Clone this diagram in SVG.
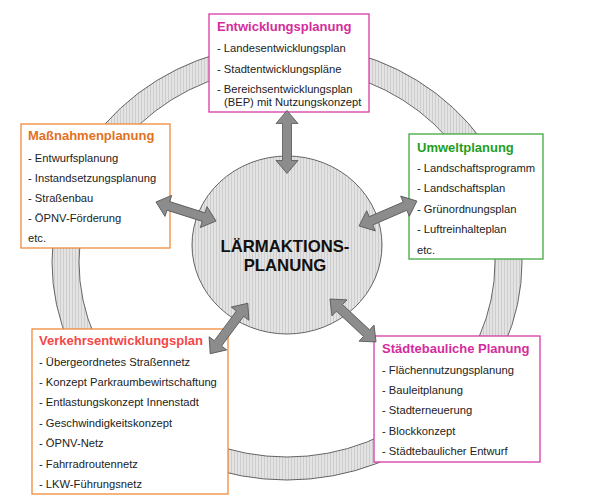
<svg xmlns="http://www.w3.org/2000/svg" width="607" height="499" viewBox="0 0 607 499">
<defs>
<pattern id="hatch" width="3" height="10" patternUnits="userSpaceOnUse">
<rect width="3" height="10" fill="#e3e3e3"/>
<rect width="1" height="10" fill="#cdcdcd"/>
</pattern>
<path id="dbl" d="M-31.5,0 L-18.5,-11 L-18.5,-4.5 L18.5,-4.5 L18.5,-11 L31.5,0 L18.5,11 L18.5,4.5 L-18.5,4.5 L-18.5,11 Z"/>
</defs>
<style>
text{font-family:"Liberation Sans",Arial,sans-serif;fill:#222;font-size:11.2px}
.t{font-weight:bold;font-size:13px}
.box{fill:#fff;stroke-width:1.3}
.mag{stroke:#d83aa8}
.org{stroke:#f08a3c}
.grn{stroke:#3fa83f}
.arr{fill:#8c8c8c;stroke:#555;stroke-width:0.8}
</style>
<rect width="607" height="499" fill="#fff"/>
<g id="ring">
<path d="M52,262 A235,218 0 1,0 522,262 A235,218 0 1,0 52,262 Z M79,262 A208,195 0 1,1 495,262 A208,195 0 1,1 79,262 Z" fill="url(#hatch)" fill-rule="evenodd" stroke="#555" stroke-width="0.9"/>
</g>
<g id="center">
<ellipse cx="287" cy="245" rx="95" ry="89" fill="url(#hatch)" stroke="#555" stroke-width="0.9"/>
<text x="285" y="252" text-anchor="middle" style="font-weight:bold;font-size:16.7px;fill:#111">LÄRMAKTIONS-</text>
<text x="285" y="271" text-anchor="middle" style="font-weight:bold;font-size:16.7px;fill:#111">PLANUNG</text>
</g>
<g id="entwicklung">
<rect class="box mag" x="209" y="14" width="160" height="98"/>
<text class="t" x="217" y="31" style="fill:#d42c9e">Entwicklungsplanung</text>
<text x="217" y="52">- Landesentwicklungsplan</text>
<text x="217" y="73">- Stadtentwicklungspläne</text>
<text x="217" y="93">- Bereichsentwicklungsplan</text>
<text x="224" y="106">(BEP) mit Nutzungskonzept</text>
</g>
<g id="massnahmen">
<rect class="box org" x="21" y="124" width="149" height="124"/>
<text class="t" x="28" y="140" style="fill:#e2711e">Maßnahmenplanung</text>
<text x="28" y="162">- Entwurfsplanung</text>
<text x="28" y="182">- Instandsetzungsplanung</text>
<text x="28" y="202">- Straßenbau</text>
<text x="28" y="222">- ÖPNV-Förderung</text>
<text x="28" y="242">etc.</text>
</g>
<g id="umwelt">
<rect class="box grn" x="409" y="134" width="134" height="125"/>
<text class="t" x="417" y="152" style="fill:#1f9e22">Umweltplanung</text>
<text x="417" y="172">- Landschaftsprogramm</text>
<text x="417" y="192">- Landschaftsplan</text>
<text x="417" y="213">- Grünordnungsplan</text>
<text x="417" y="233">- Luftreinhalteplan</text>
<text x="417" y="254">etc.</text>
</g>
<g id="verkehr">
<rect class="box org" x="32" y="329" width="196" height="165"/>
<text class="t" x="39" y="345" style="fill:#f24848">Verkehrsentwicklungsplan</text>
<text x="39" y="366">- Übergeordnetes Straßennetz</text>
<text x="39" y="386">- Konzept Parkraumbewirtschaftung</text>
<text x="39" y="406">- Entlastungskonzept Innenstadt</text>
<text x="39" y="427">- Geschwindigkeitskonzept</text>
<text x="39" y="447">- ÖPNV-Netz</text>
<text x="39" y="468">- Fahrradroutennetz</text>
<text x="39" y="488">- LKW-Führungsnetz</text>
</g>
<g id="staedtebau">
<rect class="box mag" x="374" y="336" width="166" height="126"/>
<text class="t" x="382" y="353" style="fill:#d42c9e">Städtebauliche Planung</text>
<text x="382" y="374">- Flächennutzungsplanung</text>
<text x="382" y="394">- Bauleitplanung</text>
<text x="382" y="414">- Stadterneuerung</text>
<text x="382" y="435">- Blockkonzept</text>
<text x="382" y="455">- Städtebaulicher Entwurf</text>
</g>
<g id="connectors">
<use href="#dbl" class="arr" transform="translate(287,142) rotate(90)"/>
<use href="#dbl" class="arr" transform="translate(186,211.5) rotate(17.6)"/>
<use href="#dbl" class="arr" transform="translate(388,213.5) rotate(-23.3)"/>
<use href="#dbl" class="arr" transform="translate(229,328.5) rotate(-53.3)"/>
<use href="#dbl" class="arr" transform="translate(353,320.5) rotate(43)"/>
</g>
</svg>
